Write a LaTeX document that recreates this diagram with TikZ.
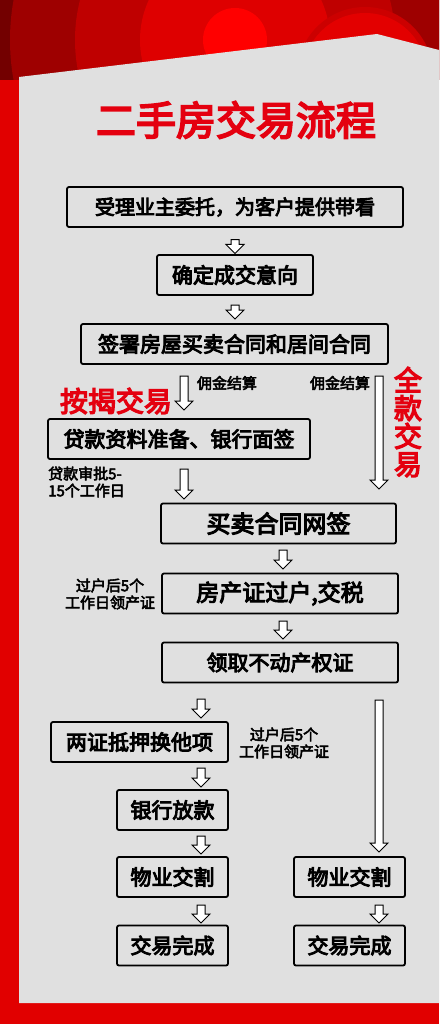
\documentclass[tikz,border=0pt]{standalone}
\usepackage{fontspec}
\setmainfont{Noto Sans CJK SC}
\newfontfamily\heavycjk{Noto Sans CJK SC}[FakeBold=4.5]
\newfontfamily\notecjk{Noto Sans CJK SC}[FakeBold=3.5]
\usetikzlibrary{shapes.arrows}

\definecolor{panelgray}{HTML}{E0E0E0}
\definecolor{mainred}{HTML}{E10000}
\definecolor{tagred}{HTML}{E4000F}

\begin{document}
\begin{tikzpicture}[x=1pt,y=-1pt,
  flowbox/.style={draw, line width=1.8pt, rounded corners=2pt, minimum height=40pt,
    inner sep=0pt, font=\heavycjk\fontsize{21}{21}\selectfont},
  downarrow/.style={single arrow, draw, fill=white, line width=1pt, rotate=-90,
    inner xsep=0pt, inner ysep=3.5pt, single arrow head extend=5pt,
    single arrow tip angle=90},
  note/.style={font=\notecjk\fontsize{15}{17}\selectfont, align=center, inner sep=0pt},
  redtag/.style={text=tagred, font=\heavycjk\fontsize{28}{28}\selectfont,
    inner sep=0pt, align=center}
  ]
  \useasboundingbox (0,0) rectangle (439,1024);
  % background and top decoration
  \fill[mainred] (0,0) rectangle (439,1024);
  \begin{scope}
    \clip (0,0) rectangle (439,80);
    \fill[red!45!black] (235,40) circle (280);
    \fill[red!62!black] (235,40) circle (225);
    \fill[red!75!black] (235,40) circle (160);
    \fill[red!87!black] (235,40) circle (95);
    \fill[red] (235,40) circle (32);
    \fill[red!80!black] (365,75) circle (68);
    \fill[red!89!black] (365,75) circle (62);
  \end{scope}
  \fill[panelgray] (19,77) -- (377,34) -- (439,50) -- (439,1003) -- (19,1003) -- cycle;

  % title
  \node[text=tagred, font=\heavycjk\fontsize{40}{40}\selectfont, inner sep=0pt] (title) at (236,120) {二手房交易流程};

  % boxes
  \node[flowbox, minimum width=336pt, font=\heavycjk\fontsize{20}{20}\selectfont] (b1) at (235,207) {受理业主委托，为客户提供带看};
  \node[flowbox, minimum width=156pt] (b2) at (235,275) {确定成交意向};
  \node[flowbox, minimum width=307pt] (b3) at (234.5,344) {签署房屋买卖合同和居间合同};
  \node[flowbox, minimum width=262pt] (b4) at (179,439) {贷款资料准备、银行面签};
  \node[flowbox, minimum width=235pt, font=\heavycjk\fontsize{24}{24}\selectfont] (b5) at (278.5,523.5) {买卖合同网签};
  \node[flowbox, minimum width=236pt, font=\heavycjk\fontsize{23}{23}\selectfont] (b6) at (280,593.5) {房产证过户,交税};
  \node[flowbox, minimum width=236pt] (b7) at (280,662.5) {领取不动产权证};
  \node[flowbox, minimum width=177pt] (b8) at (139.5,742) {两证抵押换他项};
  \node[flowbox, minimum width=111pt] (b9) at (172.5,810) {银行放款};
  \node[flowbox, minimum width=111pt] (b10) at (172.5,877) {物业交割};
  \node[flowbox, minimum width=111pt] (b11) at (172.5,945.5) {交易完成};
  \node[flowbox, minimum width=111pt] (b12) at (349.5,877) {物业交割};
  \node[flowbox, minimum width=111pt] (b13) at (349.5,945.5) {交易完成};

  % arrows
  \node[downarrow, minimum height=14pt] (a1) at (235,244.5) {};
  \node[downarrow, minimum height=14pt] (a2) at (235,310) {};
  \node[downarrow, minimum height=34pt] (a3) at (184,391) {};
  \node[downarrow, minimum height=113pt] (a4) at (379,430.5) {};
  \node[downarrow, minimum height=30pt] (a5) at (184,482) {};
  \node[downarrow, minimum height=19pt] (a6) at (283,557.5) {};
  \node[downarrow, minimum height=18pt] (a7) at (283,628) {};
  \node[downarrow, minimum height=19pt] (a8) at (201,706.5) {};
  \node[downarrow, minimum height=152pt] (a9) at (379,774) {};
  \node[downarrow, minimum height=19pt] (a10) at (201,775.5) {};
  \node[downarrow, minimum height=18pt] (a11) at (201,843) {};
  \node[downarrow, minimum height=18pt] (a12) at (201,912) {};
  \node[downarrow, minimum height=18pt] (a13) at (379,912) {};

  % side notes
  \node[note] (n1) at (227,383) {佣金结算};
  \node[note] (n2) at (340,383) {佣金结算};
  \node[note, anchor=west, align=left] (n3) at (48,482) {贷款审批5-\\15个工作日};
  \node[note] (n4) at (110,594) {过户后5个\\工作日领产证};
  \node[note] (n5) at (284,743) {过户后5个\\工作日领产证};
  \node[redtag] (t1) at (116,401) {按揭交易};
  \node[redtag] (t2) at (408,422) {全\\款\\交\\易};
\end{tikzpicture}
\end{document}
